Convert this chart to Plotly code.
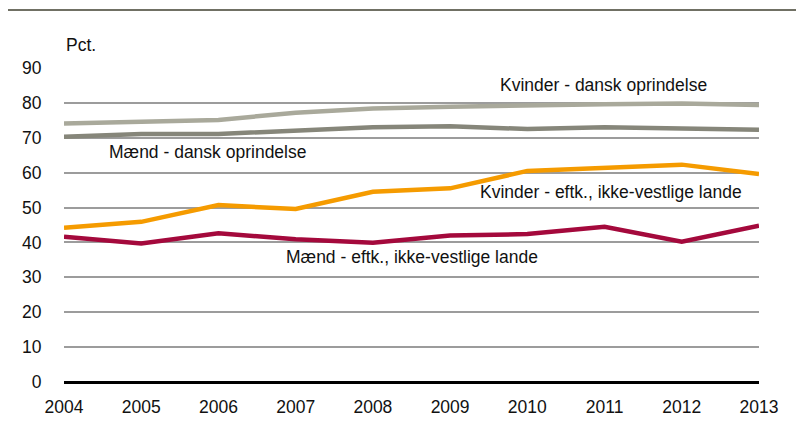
import plotly.graph_objects as go

years = [2004, 2005, 2006, 2007, 2008, 2009, 2010, 2011, 2012, 2013]
kvinder_dansk = [74.1, 74.6, 75.1, 77.2, 78.4, 78.9, 79.4, 79.6, 79.8, 79.4]
maend_dansk = [70.3, 71.1, 71.1, 72.2, 73.0, 73.3, 72.5, 73.0, 72.8, 72.3]
kvinder_eftk = [44.2, 45.9, 50.7, 49.6, 54.5, 55.5, 60.5, 61.3, 62.3, 59.6]
maend_eftk = [41.6, 39.7, 42.6, 40.9, 39.9, 42.0, 42.4, 44.5, 40.2, 44.8]

series = [
    ("Kvinder - dansk oprindelse", kvinder_dansk, "#A9A99B"),
    ("Mænd - dansk oprindelse", maend_dansk, "#86867A"),
    ("Kvinder - eftk., ikke-vestlige lande", kvinder_eftk, "#F59B00"),
    ("Mænd - eftk., ikke-vestlige lande", maend_eftk, "#A4093C"),
]

FONT = "Liberation Sans, Arial"
FS = 17.5

fig = go.Figure()
for name, vals, col in series:
    fig.add_trace(go.Scatter(x=years, y=vals, mode="lines", name=name,
                             line=dict(color=col, width=4.5), showlegend=False))

# page body has an 8px margin: the figure starts at (8, 8) of the window
OFF = 8
W, H = 804 - OFF, 423 - OFF
L, R, T, B = 64 - OFF, 759 - OFF, 68 - OFF, 382 - OFF

def px(x):
    return (x - OFF - L) / (R - L)

def py(y):
    return (B - (y - OFF)) / (B - T)

labels = [
    ("Kvinder - dansk oprindelse", 603, 85),
    ("Mænd - dansk oprindelse", 207, 152),
    ("Kvinder - eftk., ikke-vestlige lande", 611, 192),
    ("Mænd - eftk., ikke-vestlige lande", 412, 257),
]
for text, x, y in labels:
    fig.add_annotation(text=text, x=px(x), y=py(y), xref="paper", yref="paper",
                       showarrow=False, xanchor="center", yanchor="middle",
                       font=dict(size=FS, color="#111111", family=FONT))

fig.add_annotation(text="Pct.", x=px(64), y=py(45), xref="paper", yref="paper",
                   showarrow=False, xanchor="left", yanchor="middle",
                   font=dict(size=FS, color="#111111", family=FONT))

fig.add_shape(type="line", xref="paper", yref="paper",
              x0=px(8), x1=px(800), y0=py(10), y1=py(10),
              line=dict(color="#707064", width=2))

fig.update_layout(
    width=W, height=H,
    margin=dict(l=L, r=W - R, t=T, b=H - B, autoexpand=False),
    paper_bgcolor="white", plot_bgcolor="white",
    font=dict(family=FONT, size=FS, color="#111111"),
)
fig.update_xaxes(range=[2004, 2013], tickvals=years, ticktext=[str(y) for y in years],
                 showgrid=False, zeroline=False, showline=False,
                 ticks="outside", ticklen=9, tickcolor="rgba(0,0,0,0)")
fig.update_yaxes(range=[0, 90], tickvals=list(range(0, 100, 10)),
                 showgrid=True, gridcolor="#9C9C9C", gridwidth=2,
                 zeroline=True, zerolinecolor="#000000", zerolinewidth=3,
                 showline=False, ticks="outside", ticklen=18,
                 tickcolor="rgba(0,0,0,0)")

fig.write_html("out.html")
